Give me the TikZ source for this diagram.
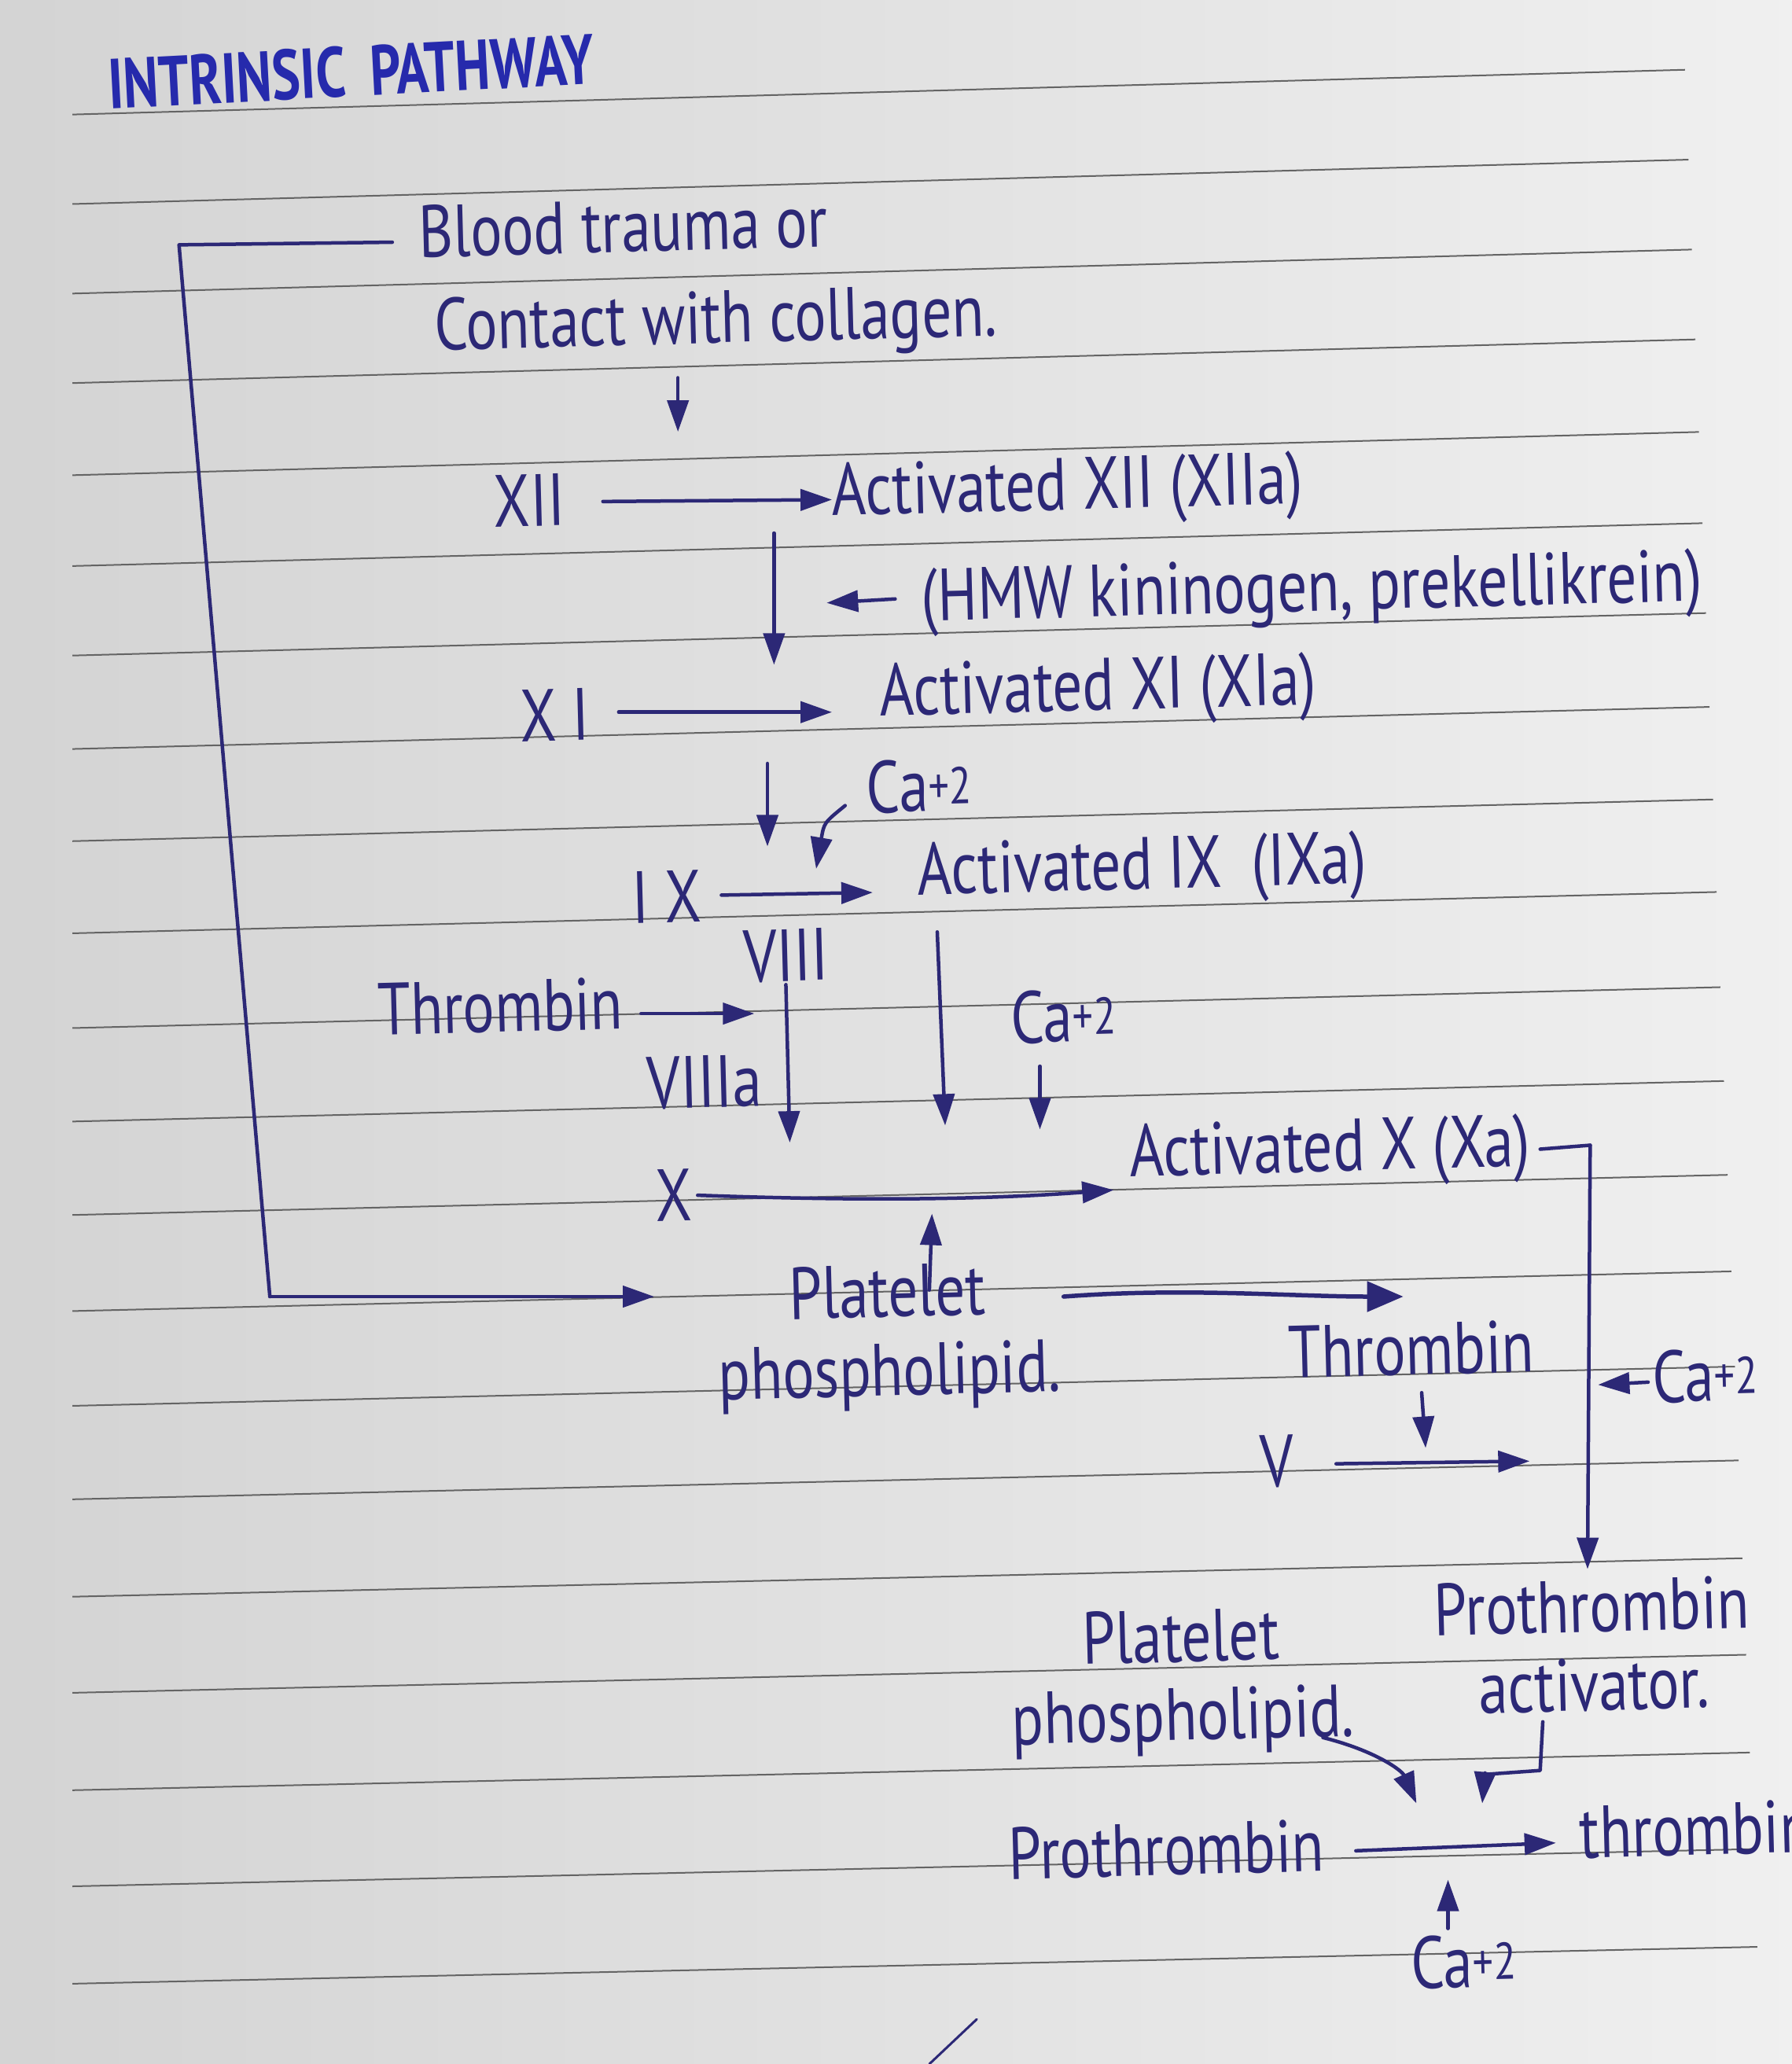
\documentclass[tikz,border=0pt]{standalone}
\usepackage{fontspec}
\setmainfont{PT Sans}
\usetikzlibrary{arrows.meta,calc}
\definecolor{ink}{RGB}{44,40,118}
\definecolor{titleink}{RGB}{38,42,172}
\definecolor{rule}{RGB}{100,100,100}
\newcommand\handfont{\fontsize{94}{100}\selectfont}
\newcommand\titlefont{\fontsize{90}{90}\selectfont\bfseries}
\begin{document}
\begin{tikzpicture}[x=1.6745pt,y=-1.6745pt,
  hand/.style={text=ink,inner sep=0pt,font=\handfont,anchor=west,rotate=1.5,xscale=0.8},
  handc/.style={hand,anchor=center,align=center},
  arr/.style={draw=ink,line width=4.5pt,line cap=round,-{Triangle[length=40pt,width=27pt]}},
  bigarr/.style={draw=ink,line width=5.5pt,line cap=round,-{Triangle[length=46pt,width=38pt]}},
  ln/.style={draw=ink,line width=4.5pt,line cap=round,line join=round},
  ruleline/.style={draw=rule,line width=2pt}]
% paper
\useasboundingbox (0,0) rectangle (1361,1568);
\shade[left color=black!17,right color=black!6] (0,0) rectangle (1361,1568);
% ruled lines
\foreach \yl in {87,155,223,291,361,430,498,569,639,709,781,852,923,996,1068,1139,1213,1286,1360,1433,1507}{
  \pgfmathsetmacro\xr{1280+(\yl-87)/1420*55}
  \pgfmathsetmacro\yr{\yl-34+(\yl-87)/1420*6}
  \draw[ruleline] (55,\yl) -- (\xr,\yr);
}
% title
\node[text=titleink,inner sep=0pt,font=\titlefont,anchor=west,rotate=3,xscale=0.76] (title) at (82,64) {INTRINSIC\hspace{0.45em}PATHWAY};
% texts
\node[hand] (blood) at (318,176) {Blood trauma or};
\node[hand] (contact) at (330,252) {Contact with collagen.};
\node[hand] (xii) at (375,381) {XII};
\node[hand] (axii) at (632,378) {Activated XII (XIIa)};
\node[hand] (hmw) at (700,458) {(HMW kininogen, prekellikrein)};
\node[hand] (xi) at (395,544) {X I};
\node[hand] (axi) at (668,530) {Activated XI (XIa)};
\node[hand] (ca1) at (658,598) {Ca\textsuperscript{+2}};
\node[hand] (ix) at (480,682) {I X};
\node[hand] (aix) at (697,666) {Activated IX\enspace(IXa)};
\node[handc] (viii) at (597,726) {VIII};
\node[hand] (thr1) at (287,767) {Thrombin};
\node[handc] (viiia) at (535,822) {VIIIa};
\node[handc] (ca2) at (808,772) {Ca\textsuperscript{+2}};
\node[handc] (x) at (512,908) {X};
\node[hand] (ax) at (858,880) {Activated X (Xa)};
\node[handc] (pp1) at (675,1016) {Platelet\\phospholipid.};
\node[handc] (thr2) at (1072,1025) {Thrombin};
\node[handc] (v) at (970,1110) {V};
\node[hand] (ca3) at (1255,1046) {Ca\textsuperscript{+2}};
\node[handc] (pa) at (1210,1250) {Prothrombin\\activator.};
\node[handc] (pp2) at (898,1278) {Platelet\\phospholipid.};
\node[handc] (pro) at (886,1405) {Prothrombin};
\node[hand] (thr3) at (1200,1392) {thrombin};
\node[handc] (ca4) at (1112,1490) {Ca\textsuperscript{+2}};
% connectors
\coordinate (b1) at (298,184);
\coordinate (b2) at (136,186);
\coordinate (b3) at (205,985);
\coordinate (b4) at (497,985);
\draw[ln] (b1) -- (b2) -- (b3);
\draw[arr] (b3) -- (b4);
\draw[arr] (515,287) -- (515,328);
\draw[arr] (458,381) -- (xii.east -| axii.west);
\draw[arr] (588,405) -- (588,505);
\draw[arr] (680,455) -- (628,458);
\draw[arr] (470,541) -- (632,541);
\draw[arr] (583,580) -- (583,643);
\draw[arr] (642,612) .. controls (626,625) .. (620,660);
\draw[arr] (548,680) -- (663,678);
\draw[arr] (487,770) -- (573,770);
\draw[arr] (597,748) -- (600,868);
\draw[arr] (712,708) -- (718,855);
\draw[arr] (790,810) -- (790,858);
\draw[arr] (530,908) .. controls (640,912) and (740,912) .. (846,904);
\draw[arr] (706,980) -- (708,922);
\draw[bigarr] (808,985) .. controls (900,978) and (980,985) .. (1066,985);
\draw[arr] (1080,1058) -- (1083,1100);
\draw[arr] (1015,1112) -- (1162,1110);
\draw[ln] (1170,873) -- (1208,870);
\draw[arr] (1208,870) -- (1206,1192);
\draw[arr] (1252,1050) -- (1214,1052);
\draw[arr] (1005,1320) .. controls (1045,1330) and (1065,1345) .. (1076,1370);
\draw[ln] (1172,1308) -- (1170,1345) -- (1128,1348);
\draw[arr] (1128,1348) -- (1126,1370);
\draw[arr] (1030,1406) -- (1182,1400);
\draw[arr] (1100,1465) -- (1100,1428);
\draw[ln,line width=3pt] (706,1568) -- (742,1534);
\end{tikzpicture}
\end{document}
